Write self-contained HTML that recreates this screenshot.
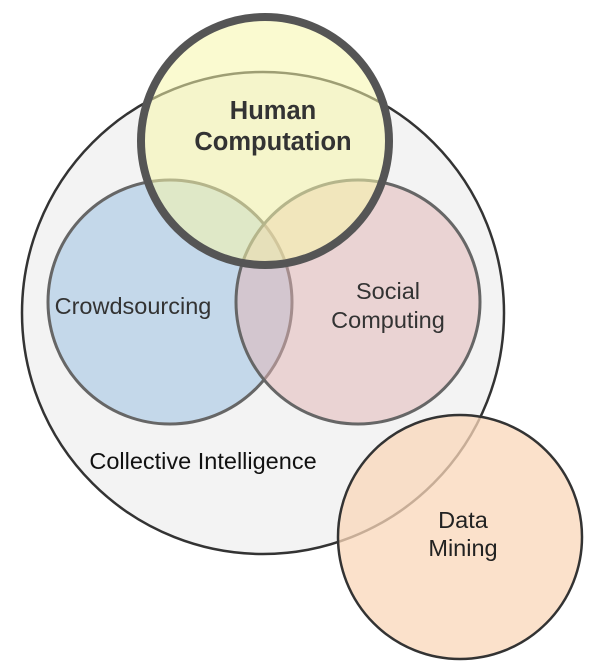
<!DOCTYPE html>
<html><head><style>html,body{margin:0;padding:0;background:#fff;}svg{display:block}</style></head>
<body>
<svg width="606" height="662" viewBox="0 0 606 662" xmlns="http://www.w3.org/2000/svg" font-family="Liberation Sans, sans-serif">
<circle cx="263" cy="313" r="241" fill="#f3f3f3" stroke="#333" stroke-width="2.5"/>
<circle cx="170" cy="302" r="122" fill="rgb(150,190,225)" fill-opacity="0.5" stroke="#666" stroke-width="3"/>
<circle cx="358" cy="302" r="122" fill="rgb(225,180,180)" fill-opacity="0.5" stroke="#666" stroke-width="3"/>
<circle cx="460" cy="537" r="122" fill="rgb(250,215,185)" fill-opacity="0.75" stroke="#333" stroke-width="2.5"/>
<circle cx="265" cy="141" r="124" fill="rgb(245,245,170)" fill-opacity="0.55" stroke="#555" stroke-width="8"/>
<text x="273" y="119" text-anchor="middle" font-size="25.5" font-weight="bold" fill="#333">Human</text>
<text x="273" y="150" text-anchor="middle" font-size="25.5" font-weight="bold" fill="#333">Computation</text>
<text x="133" y="314" text-anchor="middle" font-size="23.5" fill="#333">Crowdsourcing</text>
<text x="388" y="299" text-anchor="middle" font-size="23.5" fill="#333">Social</text>
<text x="388" y="328" text-anchor="middle" font-size="23.5" fill="#333">Computing</text>
<text x="203" y="469" text-anchor="middle" font-size="23.5" fill="#111">Collective Intelligence</text>
<text x="463" y="528" text-anchor="middle" font-size="23.5" fill="#222">Data</text>
<text x="463" y="556" text-anchor="middle" font-size="23.5" fill="#222">Mining</text>
</svg>
</body></html>
